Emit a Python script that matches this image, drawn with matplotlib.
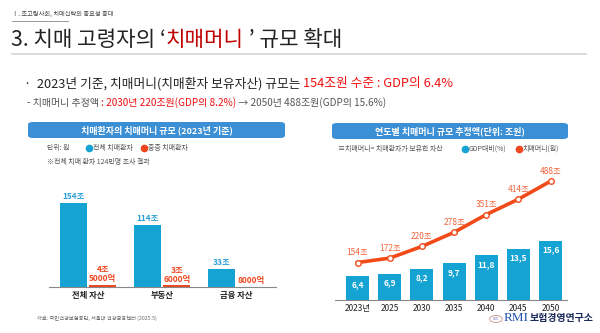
import matplotlib
matplotlib.use("Agg")
import matplotlib.pyplot as plt
from matplotlib.patches import FancyBboxPatch, Circle
from matplotlib.lines import Line2D

plt.rcParams['font.family'] = ['Noto Sans CJK KR', 'DejaVu Sans']

# left chart data (2023, unit: 조원)
asset_labels = ['전체 자산', '부동산', '금융 자산']
all_patients = [154, 114, 33]
severe_patients = [4.5, 3.6, 0.8]
all_text = ['154조', '114조', '33조']
severe_text = ['4조\n5000억', '3조\n6000억', '8000억']

# right chart data
years = ['2023년', '2025', '2030', '2035', '2040', '2045', '2050']
gdp_share = [6.4, 6.9, 8.2, 9.7, 11.8, 13.5, 15.6]
money = [154, 172, 220, 278, 351, 414, 488]

BLUE = '#14a3d3'
RED = '#f0461e'
ORANGE = '#f0643c'
BANNER = '#3b8fd4'

W, H = 600, 333
fig = plt.figure(figsize=(6, 3.33), dpi=100)
renderer = fig.canvas.get_renderer()


def fx(x):
    return x / W


def fy(y):
    return 1 - y / H


def runs(x, y, parts, size, weight='normal', family=None):
    # draw colored text pieces one after another
    for s, c in parts:
        kw = {}
        if family:
            kw['family'] = family
        t = fig.text(fx(x), fy(y), s, fontsize=size, color=c, weight=weight,
                     va='center', ha='left', **kw)
        bb = t.get_window_extent(renderer)
        x = bb.x1
    return x


# header
fig.text(fx(12), fy(14), 'Ⅰ. 초고령사회, 치매신탁의 중요성 증대', fontsize=4.5, color='#444444', va='center')
fig.add_artist(Line2D([fx(12), fx(68)], [fy(21), fy(21)], color='#888888', lw=0.6))
runs(11, 40, [('3. 치매 고령자의 ‘', '#222222'), ('치매머니', '#c00000'), (' ’ 규모 확대', '#222222')], 15.3)
fig.add_artist(Line2D([fx(12), fx(586)], [fy(54), fy(54)], color='#d4d4d4', lw=1.2))

runs(24, 84, [('·  2023년 기준, 치매머니(치매환자 보유자산) 규모는 ', '#222222'),
              ('154조원 수준 : GDP의 6.4%', '#f01010')], 9.2)
runs(27, 103, [('- 치매머니 추정액 ', '#555555'), (': 2030년 220조원(GDP의 8.2%)', '#f01010'),
               (' → 2050년 488조원(GDP의 15.6%)', '#555555')], 7.2)


def banner(x0, x1, y0, y1, text):
    p = FancyBboxPatch((fx(x0), fy(y1)), fx(x1) - fx(x0), fy(y0) - fy(y1),
                       boxstyle='round,pad=0,rounding_size=0.008',
                       transform=fig.transFigure, facecolor=BANNER, edgecolor='none')
    fig.add_artist(p)
    fig.text(fx((x0 + x1) / 2), fy((y0 + y1) / 2), text, fontsize=6.5, color='white',
             weight='bold', ha='center', va='center')


def dot(x, y, c):
    fig.add_artist(Line2D([fx(x)], [fy(y)], marker='o', color=c, markersize=4.5,
                          transform=fig.transFigure))


# left panel
banner(28, 285, 122, 138, '치매환자의 치매머니 규모 (2023년 기준)')
fig.text(fx(47), fy(148), '단위: 원', fontsize=5, color='#555555', va='center')
dot(89, 148, BLUE)
fig.text(fx(93), fy(148), '전체 치매환자', fontsize=5, color='#555555', va='center')
dot(144, 148, RED)
fig.text(fx(148), fy(148), '중증 치매환자', fontsize=5, color='#555555', va='center')
fig.text(fx(47), fy(162), '※전체 치매 환자 124만명 조사 결과', fontsize=5, color='#555555', va='center')

ax1 = fig.add_axes([fx(49), fy(287), fx(276) - fx(49), fy(190) - fy(287)])
pos = range(len(asset_labels))
bw = 0.365
xb = [p - 0.2 for p in pos]
xr = [p + 0.2 for p in pos]
ax1.bar(xb, all_patients, width=bw, color=BLUE)
ax1.bar(xr, severe_patients, width=bw, color=RED)
for x, v, s in zip(xb, all_patients, all_text):
    ax1.text(x, v + 3, s, ha='center', va='bottom', fontsize=6, color='#2aa0d4', weight='bold')
for x, v, s in zip(xr, severe_patients, severe_text):
    ax1.text(x, v + 2, s, ha='center', va='bottom', fontsize=6, color=RED, weight='bold',
             linespacing=1.0)
ax1.set_xlim(-0.527, 2.54)
ax1.set_ylim(0, 178)
ax1.set_xticks(list(pos))
ax1.set_xticklabels(asset_labels, fontsize=6, weight='bold', color='#222222')
ax1.tick_params(axis='x', length=0, pad=3)
ax1.set_yticks([])
for s in ['top', 'right', 'left']:
    ax1.spines[s].set_visible(False)
ax1.spines['bottom'].set_color('#888888')
ax1.spines['bottom'].set_linewidth(0.8)
ax1.patch.set_alpha(0)

fig.text(fx(37), fy(318), '자료: 국민건강보험공단, 서울대 건강금융센터 (2025.5)', fontsize=3.8,
         color='#666666', va='center')

# right panel
banner(332, 568, 123, 139, '연도별 치매머니 규모 추정액(단위: 조원)')
fig.text(fx(338), fy(149), '≡치매머니= 치매환자가 보유한 자산', fontsize=5, color='#555555', va='center')
dot(465, 149, BLUE)
fig.text(fx(469), fy(149), 'GDP대비(%)', fontsize=5, color='#555555', va='center')
dot(519, 149, RED)
fig.text(fx(523), fy(149), '치매머니(원)', fontsize=5, color='#555555', va='center')

ax2 = fig.add_axes([fx(335), fy(300), fx(567) - fx(335), fy(170) - fy(300)])
xs = range(len(years))
ax2.bar(xs, gdp_share, width=0.715, color=BLUE)
for x, v in zip(xs, gdp_share):
    ax2.text(x, v - 1.2, f'{v:.1f}'.replace('.', ','), ha='center', va='top', fontsize=6,
             color='white', weight='bold')
ax2.set_xlim(-0.70, 6.51)
ax2.set_ylim(0, 34.4)
ax2.set_xticks(list(xs))
ax2.set_xticklabels(years, fontsize=6, color='#222222')
ax2.tick_params(axis='x', length=0, pad=3)
ax2.set_yticks([])
for s in ['top', 'right', 'left']:
    ax2.spines[s].set_visible(False)
ax2.spines['bottom'].set_color('#888888')
ax2.spines['bottom'].set_linewidth(0.8)
ax2.patch.set_alpha(0)

ax3 = ax2.twinx()
ax3.plot(list(xs), money, color='#f24b1a', lw=2.6, marker='o', markersize=4,
         markerfacecolor='white', markeredgecolor='#f24b1a', markeredgewidth=1.0)
for x, v in zip(xs, money):
    ax3.text(x, v + 22, f'{v}조', ha='center', va='bottom', fontsize=6, color=ORANGE)
ax3.set_ylim(0, 534)
ax3.set_yticks([])
ax3.axis('off')

# logo
fig.add_artist(Circle((fx(496), fy(319)), 0.0105, transform=fig.transFigure,
                      facecolor='white', edgecolor='#c89090', lw=0.6))
fig.text(fx(496), fy(319), 'RMI', fontsize=2.3, color='#8080c0', ha='center', va='center',
         family='Liberation Serif')
x_end = runs(504, 318, [('RMI', '#1f4fb0')], 9.5, family='Liberation Serif')
runs(x_end + 0.5, 318.5, [('보험경영연구소', '#1a2a5a')], 7.2, weight='bold')

fig.savefig('out.png', dpi=100)
